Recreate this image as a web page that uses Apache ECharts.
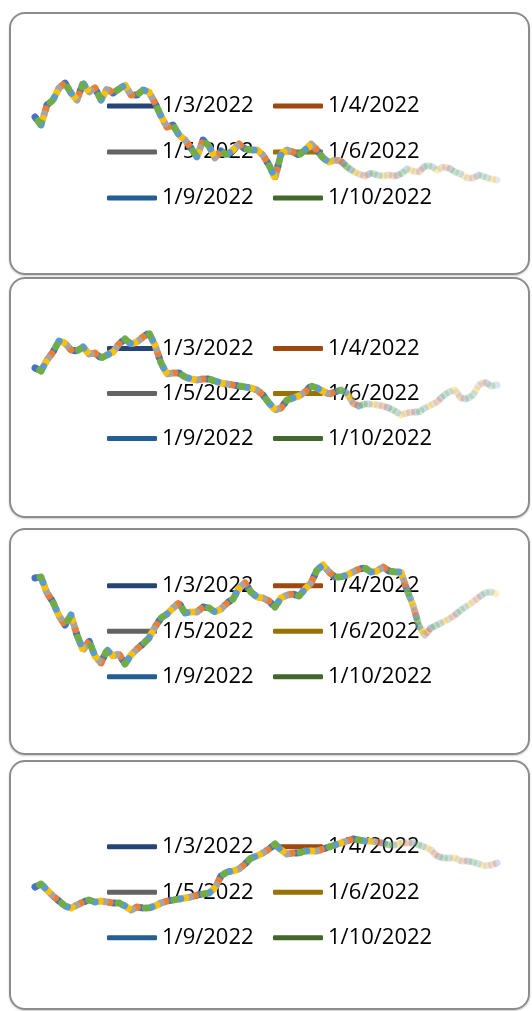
<!DOCTYPE html>
<html lang="en">
  <head>
    <meta charset="UTF-8" />
    <title>Chart</title>
    <style>
      html,
      body {
        margin: 0;
        padding: 0;
        background: #fff;
      }
      body {
        width: 532px;
        height: 1011px;
        position: relative;
        overflow: hidden;
      }
      .panel {
        position: absolute;
        left: 9px;
        width: 521px;
        box-sizing: border-box;
        border: 2px solid #8c8c8c;
        border-radius: 16px;
        box-shadow: 0 1px 2px rgba(0, 0, 0, 0.2);
      }
      .panel .chart {
        position: absolute;
        left: -2px;
        top: -2px;
        right: -2px;
        bottom: -2px;
      }
    </style>
  </head>
  <body>
    <div class="panel" style="top: 12px; height: 263px"><div class="chart"></div></div>
    <div class="panel" style="top: 277px; height: 241px"><div class="chart"></div></div>
    <div class="panel" style="top: 528px; height: 227px"><div class="chart"></div></div>
    <div class="panel" style="top: 760px; height: 250px"><div class="chart"></div></div>

    <script src="https://cdn.jsdelivr.net/npm/echarts@6/dist/echarts.min.js"></script>
    <script>
      // series = trading days, one line per day
      const seriesNames = ["1/3/2022", "1/4/2022", "1/5/2022", "1/6/2022", "1/9/2022", "1/10/2022"];
      const lineColors = ["#4472C4", "#ED7D31", "#A5A5A5", "#FFC000", "#5B9BD5", "#70AD47"];
      const legendColors = ["#264478", "#9E480E", "#636363", "#997300", "#255E91", "#43682B"];

      const panel1 = [158, 150, 170, 175, 187, 192, 182, 175, 192, 183, 187, 175, 186, 182, 186, 190, 180, 180, 185, 183,
        172, 159, 148, 150, 140, 135, 127, 118, 135, 129, 117, 124, 120, 125, 131, 126, 125, 125, 120, 110,
        97, 121, 125, 123, 120, 125, 131, 125, 117, 113, 115, 114, 108, 104, 101, 99, 102, 100, 99, 100,
        99, 101, 106, 104, 103, 109, 109, 105, 108, 107, 103, 101, 97, 97, 100, 98, 96, 95];
      const panel2 = [150, 147, 158, 166, 177, 175, 168, 167, 171, 164, 165, 160, 163, 166, 174, 179, 174, 176, 181, 185,
        173, 155, 144, 145, 145, 141, 139, 138, 139, 139, 137, 135, 134, 133, 132, 131, 130, 128, 123, 115,
        108, 110, 118, 120, 122, 126, 132, 130, 127, 124, 126, 128, 125, 115, 112, 114, 114, 113, 112, 110,
        107, 103, 105, 106, 106, 110, 113, 116, 122, 126, 128, 120, 119, 123, 133, 136, 132, 133];
      const panel3 = [177, 178, 162, 153, 139, 130, 140, 120, 105, 114, 99, 92, 105, 99, 101, 91, 100, 106, 111, 117,
        128, 137, 141, 147, 152, 142, 143, 143, 148, 147, 143, 146, 152, 156, 167, 172, 163, 158, 157, 154,
        148, 157, 160, 161, 159, 166, 172, 185, 190, 183, 178, 178, 180, 183, 186, 187, 183, 184, 188, 184,
        183, 183, 165, 150, 129, 120, 127, 130, 133, 136, 140, 145, 149, 153, 158, 162, 163, 161];
      const panel4 = [123, 126, 120, 114, 109, 104, 102, 105, 108, 110, 108, 109, 108, 107, 107, 104, 100, 103, 102, 102,
        104, 107, 109, 110, 111, 112, 113, 115, 116, 117, 122, 134, 138, 139, 141, 146, 152, 154, 157, 161,
        166, 160, 156, 157, 157, 159, 159, 159, 161, 163, 165, 167, 169, 171, 170, 169, 169, 168, 167, 165,
        165, 167, 167, 167, 165, 163, 160, 154, 152, 152, 152, 149, 149, 148, 146, 144, 145, 147];

      const panels = [
        { data: panel1, height: 263, legendTop: 73.5, rowGap: 41, fade: 0.62 },
        { data: panel2, height: 241, legendTop: 51.5, rowGap: 40, fade: 0.64 },
        { data: panel3, height: 227, legendTop: 37.5, rowGap: 40.5, fade: 0.78 },
        { data: panel4, height: 250, legendTop: 66.5, rowGap: 40.5, fade: 0.7 },
      ];

      function fadeColor(hex, fade) {
        const r = parseInt(hex.slice(1, 3), 16);
        const g = parseInt(hex.slice(3, 5), 16);
        const b = parseInt(hex.slice(5, 7), 16);
        const c = (a) => `rgba(${r},${g},${b},${a})`;
        return new echarts.graphic.LinearGradient(0, 0, 1, 0, [
          { offset: 0, color: c(1) },
          { offset: fade, color: c(1) },
          { offset: Math.min(fade + 0.08, 1), color: c(0.35) },
          { offset: 1, color: c(0.25) },
        ]);
      }

      document.querySelectorAll(".chart").forEach((el, k) => {
        const p = panels[k];
        const chart = echarts.init(el);
        chart.setOption({
          animation: false,
          grid: { left: 26, right: 33, top: 0, bottom: 0 },
          xAxis: { type: "category", boundaryGap: false, show: false },
          yAxis: { type: "value", min: 0, max: p.height, show: false },
          legend: {
            left: 98,
            top: p.legendTop,
            width: 330,
            padding: 0,
            z: 1,
            icon: "roundRect",
            itemWidth: 50,
            itemHeight: 5,
            itemGap: 5,
            textStyle: {
              fontFamily: "Open Sans",
              fontSize: 22,
              color: "#000",
              width: 106,
              lineHeight: p.rowGap,
            },
            data: seriesNames.map((name, i) => ({
              name: name,
              itemStyle: { color: legendColors[i] },
            })),
          },
          series: seriesNames.map((name, i) => ({
            name: name,
            type: "line",
            data: p.data,
            z: 2,
            showSymbol: false,
            color: lineColors[i],
            emphasis: { disabled: true },
            lineStyle: {
              width: 7,
              color: fadeColor(lineColors[i], p.fade),
              type: [2, 28],
              dashOffset: i * 5,
              cap: "round",
              join: "round",
            },
          })),
        });
      });
    </script>
  </body>
</html>
